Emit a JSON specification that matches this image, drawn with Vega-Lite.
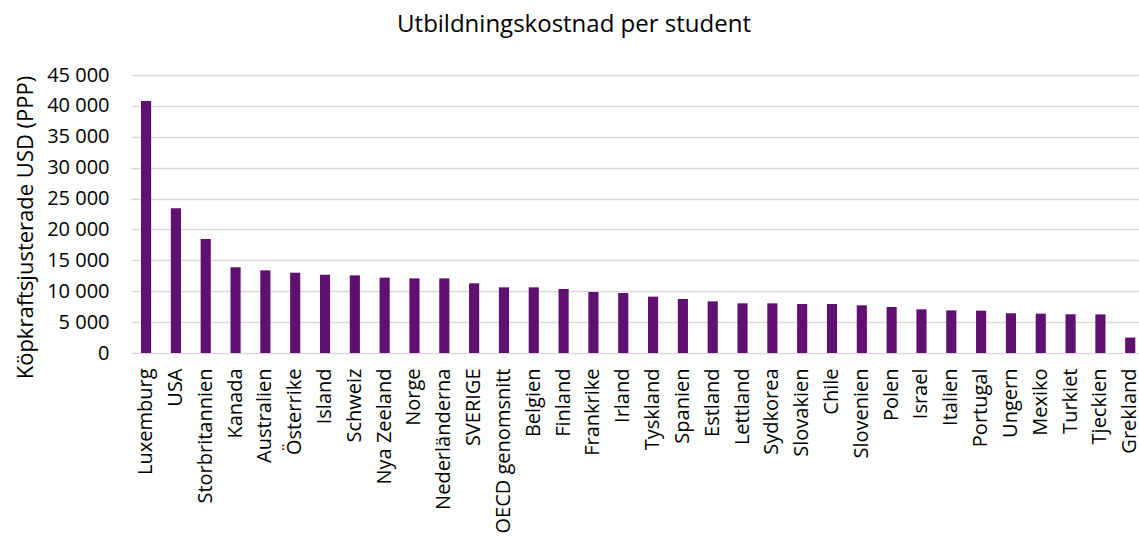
{
  "$schema": "https://vega.github.io/schema/vega-lite/v6.json",
  "autosize": {"type": "none"},
  "padding": {"left": 131, "top": 75, "right": 0, "bottom": 185},
  "width": 1008,
  "height": 278,
  "background": "white",
  "config": {
    "font": "Open Sans",
    "view": {"stroke": null}
  },
  "title": {
    "text": "Utbildningskostnad per student",
    "font": "Open Sans",
    "fontSize": 24,
    "fontWeight": "normal",
    "color": "#000000",
    "anchor": "middle",
    "dx": -61,
    "offset": 28
  },
  "data": {
    "values": [
      {"land": "Luxemburg", "kostnad": 40800},
      {"land": "USA", "kostnad": 23450},
      {"land": "Storbritannien", "kostnad": 18450},
      {"land": "Kanada", "kostnad": 13870},
      {"land": "Australien", "kostnad": 13380},
      {"land": "Österrike", "kostnad": 13000},
      {"land": "Island", "kostnad": 12670},
      {"land": "Schweiz", "kostnad": 12570},
      {"land": "Nya Zeeland", "kostnad": 12200},
      {"land": "Norge", "kostnad": 12080},
      {"land": "Nederländerna", "kostnad": 12080},
      {"land": "SVERIGE", "kostnad": 11280},
      {"land": "OECD genomsnitt", "kostnad": 10630},
      {"land": "Belgien", "kostnad": 10630},
      {"land": "Finland", "kostnad": 10360},
      {"land": "Frankrike", "kostnad": 9870},
      {"land": "Irland", "kostnad": 9710},
      {"land": "Tyskland", "kostnad": 9120},
      {"land": "Spanien", "kostnad": 8740},
      {"land": "Estland", "kostnad": 8360},
      {"land": "Lettland", "kostnad": 8040},
      {"land": "Sydkorea", "kostnad": 8040},
      {"land": "Slovakien", "kostnad": 7930},
      {"land": "Chile", "kostnad": 7930},
      {"land": "Slovenien", "kostnad": 7720},
      {"land": "Polen", "kostnad": 7450},
      {"land": "Israel", "kostnad": 7070},
      {"land": "Italien", "kostnad": 6900},
      {"land": "Portugal", "kostnad": 6850},
      {"land": "Ungern", "kostnad": 6430},
      {"land": "Mexiko", "kostnad": 6370},
      {"land": "Turkiet", "kostnad": 6270},
      {"land": "Tjeckien", "kostnad": 6250},
      {"land": "Grekland", "kostnad": 2500}
    ]
  },
  "mark": {"type": "bar", "color": "#601070"},
  "encoding": {
    "x": {
      "field": "land",
      "type": "nominal",
      "sort": null,
      "scale": {"paddingInner": 0.66, "paddingOuter": 0.23, "align": 0.73},
      "axis": {
        "title": null,
        "labelAngle": -90,
        "labelAlign": "right",
        "labelBaseline": "middle",
        "labelFont": "Open Sans",
        "labelFontSize": 20,
        "labelColor": "#000000",
        "labelPadding": 15,
        "labelOverlap": false,
        "ticks": false,
        "domain": false,
        "grid": false
      }
    },
    "y": {
      "field": "kostnad",
      "type": "quantitative",
      "scale": {"domain": [0, 45000], "nice": false},
      "axis": {
        "title": "Köpkraftsjusterade USD (PPP)",
        "titleFont": "Open Sans",
        "titleFontSize": 22,
        "titleFontWeight": "normal",
        "titleColor": "#000000",
        "titleAngle": -90,
        "titleAlign": "center",
        "titleBaseline": "middle",
        "titleX": -106,
        "titleY": 152,
        "values": [0, 5000, 10000, 15000, 20000, 25000, 30000, 35000, 40000, 45000],
        "labelExpr": "replace(format(datum.value, ','), ',', ' ')",
        "labelFont": "Open Sans",
        "labelFontSize": 20,
        "labelColor": "#000000",
        "labelPadding": 22,
        "ticks": false,
        "domain": false,
        "grid": true,
        "gridColor": "#d9d9d9",
        "gridWidth": 1.5
      }
    }
  }
}
